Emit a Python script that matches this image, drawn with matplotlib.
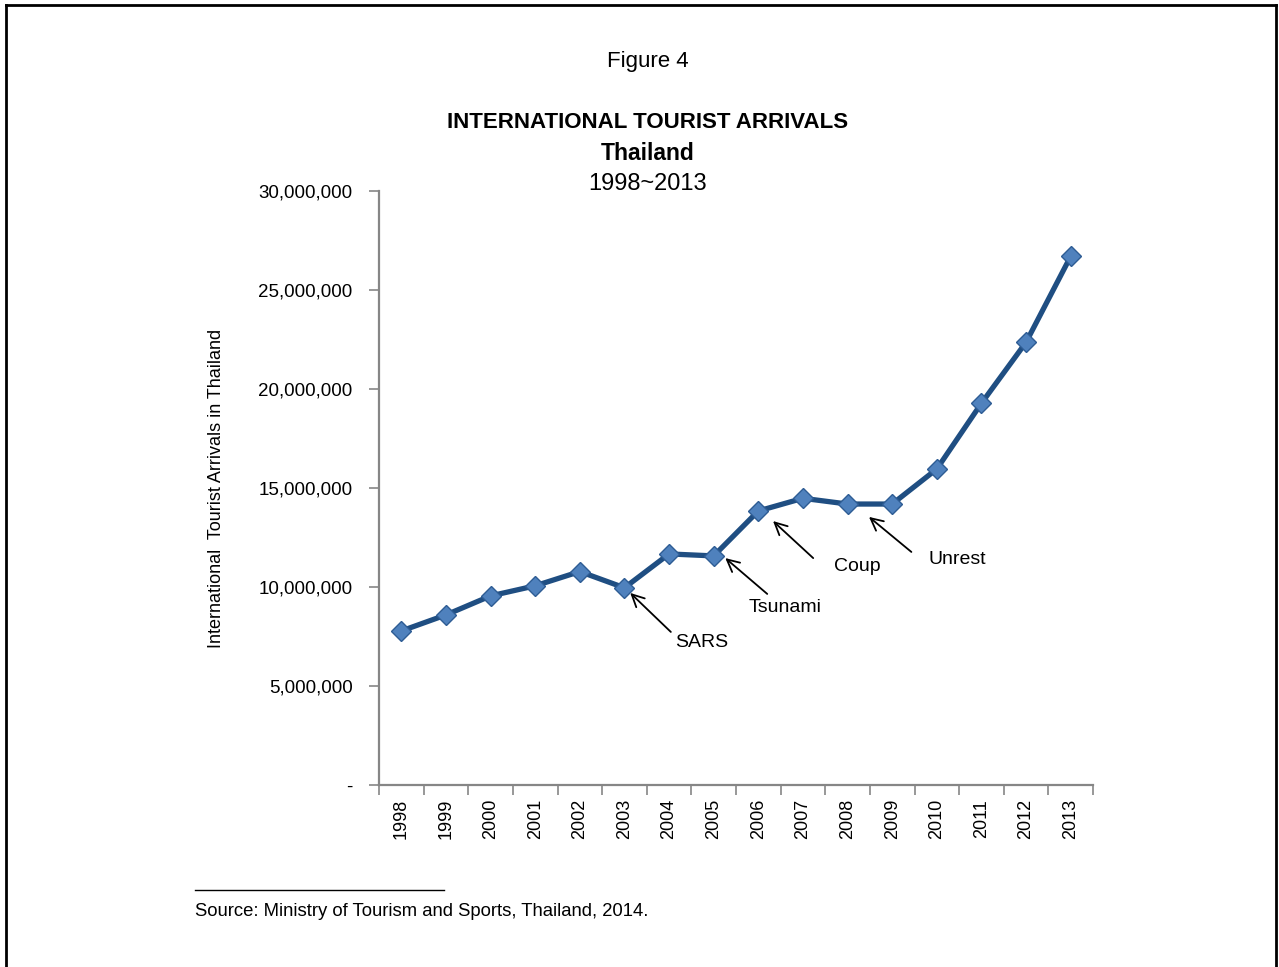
import matplotlib
matplotlib.use("Agg")
import matplotlib.pyplot as plt
from matplotlib.lines import Line2D
from matplotlib.ticker import FixedLocator, FuncFormatter

plt.rcParams['font.family'] = ['Liberation Sans Narrow', 'Liberation Sans', 'DejaVu Sans']

# International tourist arrivals in Thailand, 1998-2013
years = ['1998', '1999', '2000', '2001', '2002', '2003', '2004', '2005',
         '2006', '2007', '2008', '2009', '2010', '2011', '2012', '2013']
arrivals = [7780000, 8590000, 9550000, 10060000, 10780000, 9960000, 11670000, 11570000,
            13840000, 14480000, 14190000, 14190000, 15960000, 19280000, 22360000, 26700000]

# Events marked on the series
events = ['SARS', 'Tsunami', 'Coup', 'Unrest']

y_ticks = [0, 5000000, 10000000, 15000000, 20000000, 25000000, 30000000]

fig = plt.figure(figsize=(12.79, 9.67), dpi=100)
ax = fig.add_axes([379 / 1279, 1 - 785 / 967, (1093 - 379) / 1279, (785 - 191) / 967])

x = list(range(len(years)))
ax.plot(x, arrivals, color='#1F4E82', lw=3.8, marker='D', ms=10,
        markerfacecolor='#4F81BD', markeredgecolor='#2E5C94', markeredgewidth=1.0,
        zorder=3)

ax.set_xlim(-0.5, len(years) - 0.5)
ax.set_ylim(0, 30000000)

axis_gray = '#868686'
for side in ('top', 'right'):
    ax.spines[side].set_visible(False)
for side in ('left', 'bottom'):
    ax.spines[side].set_color(axis_gray)
    ax.spines[side].set_linewidth(1.6)

ax.set_xticks(x)
ax.set_xticklabels(years, rotation=90, fontsize=13)
ax.xaxis.set_minor_locator(FixedLocator([i - 0.5 for i in range(len(years) + 1)]))
ax.tick_params(axis='x', which='major', length=0, pad=10)
ax.tick_params(axis='x', which='minor', length=7, width=1.2, color=axis_gray, direction='out')

ax.set_yticks(y_ticks)
ax.yaxis.set_major_formatter(FuncFormatter(lambda v, p: '-' if v == 0 else f'{int(v):,}'))
ax.tick_params(axis='y', length=7, width=1.2, color=axis_gray, labelsize=13.5, pad=12)

ax.set_ylabel('International  Tourist Arrivals in Thailand', fontsize=13, labelpad=24)

# Event arrows (tip near the data point, tail toward the label)
arrow_tips = [(5.13, 9700000), (7.26, 11460000), (8.33, 13330000), (10.48, 13540000)]
arrow_tails = [(6.04, 7730000), (8.20, 9650000), (9.23, 11460000), (11.43, 11770000)]
label_pos = [(6.74, 7220000), (8.60, 8940000), (10.22, 11060000), (12.46, 11410000)]
for name, tip, tail, pos in zip(events, arrow_tips, arrow_tails, label_pos):
    ax.annotate('', xy=tip, xytext=tail,
                arrowprops=dict(arrowstyle='->', color='black', lw=1.3,
                                mutation_scale=22, shrinkA=0, shrinkB=0))
    ax.text(pos[0], pos[1], name, fontsize=14, ha='center', va='center')

# Titles
fig.text(648 / 1279, 1 - 62 / 967, 'Figure 4', fontsize=16, ha='center', va='center')
fig.text(648 / 1279, 1 - 122 / 967, 'INTERNATIONAL TOURIST ARRIVALS', fontsize=16,
         fontweight='bold', ha='center', va='center')
fig.text(648 / 1279, 1 - 153 / 967, 'Thailand', fontsize=16.5, fontweight='bold',
         ha='center', va='center')
fig.text(648 / 1279, 1 - 184 / 967, '1998~2013', fontsize=17, ha='center', va='center')

# Source note
fig.add_artist(Line2D([195 / 1279, 444 / 1279], [1 - 890 / 967, 1 - 890 / 967],
                      color='black', lw=1.0))
fig.text(195 / 1279, 1 - 912 / 967, 'Source: Ministry of Tourism and Sports, Thailand, 2014.',
         fontsize=13.3, ha='left', va='center')

# Page frame
frame_kw = dict(color='black', lw=2.0)
fig.add_artist(Line2D([6 / 1279, 6 / 1279], [0, 1 - 5 / 967], **frame_kw))
fig.add_artist(Line2D([1276 / 1279, 1276 / 1279], [0, 1 - 5 / 967], **frame_kw))
fig.add_artist(Line2D([6 / 1279, 1276 / 1279], [1 - 5 / 967, 1 - 5 / 967], **frame_kw))

fig.savefig('out.png', dpi=100, facecolor='white')
